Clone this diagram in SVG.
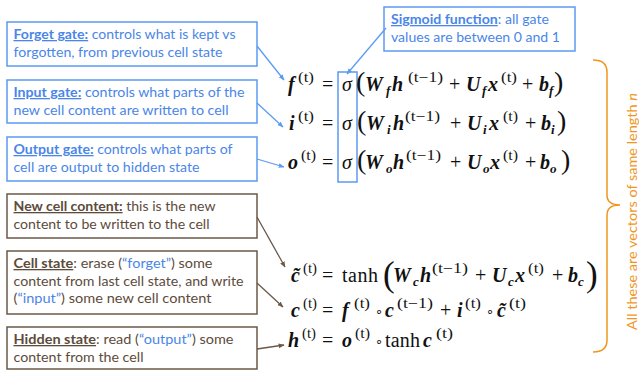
<svg xmlns="http://www.w3.org/2000/svg" width="639" height="370" viewBox="0 0 639 370">
<style>
.bx{fill:#fff;stroke-width:1.5}
.bb{stroke:#5b9bf2}
.br{stroke:#6b5847}
.t{font-family:Lato,"Open Sans",sans-serif;font-size:13px}
.tb{fill:#4a86e8}
.tr{fill:#5d4b3b}
.h{font-weight:bold;text-decoration:underline}
.q{fill:#4a86e8}
.m{font-family:"Liberation Serif","DejaVu Serif",serif;fill:#111}
.v{font-weight:bold;font-style:italic;font-size:20px}
.sb{font-weight:bold;font-style:italic;font-size:13px}
.sp{font-size:14px}
.op{font-size:20px}
.gk{font-style:italic;font-size:20px}
.bp{font-size:28px}
.bp2{font-size:35px}
.ring{font-family:"DejaVu Sans",sans-serif;font-size:13px;fill:#111}
.ca{fill:none;stroke-width:1.3}
.cb{stroke:#5b9bf2;marker-end:url(#ab)}
.cr{stroke:#6b5847;marker-end:url(#ar)}
</style>
<defs>
<marker id="ab" viewBox="0 0 10 10" refX="9" refY="5" markerWidth="6" markerHeight="6" orient="auto" markerUnits="userSpaceOnUse"><path d="M0,1 L10,5 L0,9 z" fill="#5b9bf2"/></marker>
<marker id="ar" viewBox="0 0 10 10" refX="9" refY="5" markerWidth="6" markerHeight="6" orient="auto" markerUnits="userSpaceOnUse"><path d="M0,1 L10,5 L0,9 z" fill="#6b5847"/></marker>
</defs>
<rect width="639" height="370" fill="#fff"/>

<g id="forget-gate">
<rect class="bx bb" x="7" y="22" width="250" height="44"/>
<text class="t tb" x="13.5" y="39" textLength="222" lengthAdjust="spacingAndGlyphs"><tspan class="h">Forget gate:</tspan> controls what is kept vs</text>
<text class="t tb" x="13.5" y="57" textLength="209" lengthAdjust="spacingAndGlyphs">forgotten, from previous cell state</text>
</g>
<g id="input-gate">
<rect class="bx bb" x="7" y="80" width="250" height="43"/>
<text class="t tb" x="13.5" y="97" textLength="231" lengthAdjust="spacingAndGlyphs"><tspan class="h">Input gate:</tspan> controls what parts of the</text>
<text class="t tb" x="13.5" y="115" textLength="215" lengthAdjust="spacingAndGlyphs">new cell content are written to cell</text>
</g>
<g id="output-gate">
<rect class="bx bb" x="7" y="137" width="250" height="44"/>
<text class="t tb" x="13.5" y="154" textLength="219" lengthAdjust="spacingAndGlyphs"><tspan class="h">Output gate:</tspan> controls what parts of</text>
<text class="t tb" x="13.5" y="172" textLength="186" lengthAdjust="spacingAndGlyphs">cell are output to hidden state</text>
</g>
<g id="new-cell-content">
<rect class="bx br" x="7" y="194" width="250" height="44"/>
<text class="t tr" x="13.5" y="211" textLength="202" lengthAdjust="spacingAndGlyphs"><tspan class="h">New cell content:</tspan> this is the new</text>
<text class="t tr" x="13.5" y="229" textLength="196" lengthAdjust="spacingAndGlyphs">content to be written to the cell</text>
</g>
<g id="cell-state">
<rect class="bx br" x="7" y="251" width="250" height="63"/>
<text class="t tr" x="13.5" y="268" textLength="199" lengthAdjust="spacingAndGlyphs"><tspan class="h">Cell state</tspan>: erase (<tspan class="q">“forget”</tspan>) some</text>
<text class="t tr" x="13.5" y="286" textLength="230" lengthAdjust="spacingAndGlyphs">content from last cell state, and write</text>
<text class="t tr" x="13.5" y="303" textLength="198" lengthAdjust="spacingAndGlyphs">(<tspan class="q">“input”</tspan>) some new cell content</text>
</g>
<g id="hidden-state">
<rect class="bx br" x="7" y="327" width="250" height="42"/>
<text class="t tr" x="13.5" y="344" textLength="220" lengthAdjust="spacingAndGlyphs"><tspan class="h">Hidden state</tspan>: read (<tspan class="q">“output”</tspan>) some</text>
<text class="t tr" x="13.5" y="362" textLength="130" lengthAdjust="spacingAndGlyphs">content from the cell</text>
</g>
<g id="sigmoid-function">
<rect class="bx bb" x="384" y="7" width="191" height="44"/>
<text class="t tb" x="391" y="24" textLength="158" lengthAdjust="spacingAndGlyphs"><tspan class="h">Sigmoid function</tspan>: all gate</text>
<text class="t tb" x="391" y="42" textLength="169" lengthAdjust="spacingAndGlyphs">values are between 0 and 1</text>
</g>
<g id="sigma-highlight">
<rect x="338" y="72" width="19" height="110" fill="none" stroke="#5b9bf2" stroke-width="1.5"/>
</g>

<g id="eq-f" class="m">
<text class="v" x="288" y="91">f</text><text class="sp" x="298" y="82" textLength="16" lengthAdjust="spacingAndGlyphs">(t)</text>
<text class="op" x="322" y="91">=</text><text class="gk" x="342" y="91">σ</text>
<text class="bp" x="356" y="91">(</text>
<text class="v" x="365" y="91">W</text><text class="sb" x="386" y="95">f</text>
<text class="v" x="392" y="91">h</text><text class="sp" x="408" y="82" textLength="35" lengthAdjust="spacingAndGlyphs">(t−1)</text>
<text class="op" x="449" y="91">+</text>
<text class="v" x="466" y="91">U</text><text class="sb" x="482" y="95">f</text>
<text class="v" x="488" y="91">x</text><text class="sp" x="501" y="82" textLength="16" lengthAdjust="spacingAndGlyphs">(t)</text>
<text class="op" x="522" y="91">+</text>
<text class="v" x="539" y="91">b</text><text class="sb" x="549" y="95">f</text>
<text class="bp" x="554" y="91">)</text>
</g>
<g id="eq-i" class="m">
<text class="v" x="289" y="130">i</text><text class="sp" x="298" y="121" textLength="16" lengthAdjust="spacingAndGlyphs">(t)</text>
<text class="op" x="322" y="130">=</text><text class="gk" x="342" y="130">σ</text>
<text class="bp" x="357" y="130">(</text>
<text class="v" x="366" y="130">W</text><text class="sb" x="387" y="134">i</text>
<text class="v" x="393" y="130">h</text><text class="sp" x="405" y="121" textLength="35" lengthAdjust="spacingAndGlyphs">(t−1)</text>
<text class="op" x="450" y="130">+</text>
<text class="v" x="467" y="130">U</text><text class="sb" x="483" y="134">i</text>
<text class="v" x="489" y="130">x</text><text class="sp" x="503" y="121" textLength="15" lengthAdjust="spacingAndGlyphs">(t)</text>
<text class="op" x="525" y="130">+</text>
<text class="v" x="541" y="130">b</text><text class="sb" x="551" y="134">i</text>
<text class="bp" x="557" y="130">)</text>
</g>
<g id="eq-o" class="m">
<text class="v" x="288" y="169">o</text><text class="sp" x="301" y="160" textLength="15" lengthAdjust="spacingAndGlyphs">(t)</text>
<text class="op" x="322" y="169">=</text><text class="gk" x="342" y="169">σ</text>
<text class="bp" x="357" y="169">(</text>
<text class="v" x="365" y="169">W</text><text class="sb" x="386" y="173">o</text>
<text class="v" x="393" y="169">h</text><text class="sp" x="406" y="160" textLength="35" lengthAdjust="spacingAndGlyphs">(t−1)</text>
<text class="op" x="450" y="169">+</text>
<text class="v" x="467" y="169">U</text><text class="sb" x="483" y="173">o</text>
<text class="v" x="490" y="169">x</text><text class="sp" x="503" y="160" textLength="15" lengthAdjust="spacingAndGlyphs">(t)</text>
<text class="op" x="525" y="169">+</text>
<text class="v" x="540" y="169">b</text><text class="sb" x="550" y="173">o</text>
<text class="bp" x="561" y="169">)</text>
</g>
<g id="eq-ctilde" class="m">
<text class="v" x="291" y="282">c̃</text><text class="sp" x="303" y="273" textLength="14" lengthAdjust="spacingAndGlyphs">(t)</text>
<text class="op" x="322" y="282">=</text>
<text class="op" x="342" y="282" textLength="36" lengthAdjust="spacing">tanh</text>
<text class="bp2" x="383" y="286">(</text>
<text class="v" x="393" y="282">W</text><text class="sb" x="413" y="286">c</text>
<text class="v" x="420" y="282">h</text><text class="sp" x="432" y="273" textLength="36" lengthAdjust="spacingAndGlyphs">(t−1)</text>
<text class="op" x="475" y="282">+</text>
<text class="v" x="492" y="282">U</text><text class="sb" x="508" y="286">c</text>
<text class="v" x="515" y="282">x</text><text class="sp" x="528" y="273" textLength="16" lengthAdjust="spacingAndGlyphs">(t)</text>
<text class="op" x="552" y="282">+</text>
<text class="v" x="568" y="282">b</text><text class="sb" x="578" y="286">c</text>
<text class="bp2" x="586" y="286">)</text>
</g>
<g id="eq-c" class="m">
<text class="v" x="291" y="317">c</text><text class="sp" x="303" y="308" textLength="14" lengthAdjust="spacingAndGlyphs">(t)</text>
<text class="op" x="322" y="317">=</text>
<text class="v" x="342" y="317">f</text><text class="sp" x="354" y="308" textLength="16" lengthAdjust="spacingAndGlyphs">(t)</text>
<text class="ring" x="375" y="316">∘</text>
<text class="v" x="385" y="317">c</text><text class="sp" x="397" y="308" textLength="36" lengthAdjust="spacingAndGlyphs">(t−1)</text>
<text class="op" x="440" y="317">+</text>
<text class="v" x="457" y="317">i</text><text class="sp" x="465" y="308" textLength="16" lengthAdjust="spacingAndGlyphs">(t)</text>
<text class="ring" x="486" y="316">∘</text>
<text class="v" x="497" y="317">c̃</text><text class="sp" x="509" y="308" textLength="17" lengthAdjust="spacingAndGlyphs">(t)</text>
</g>
<g id="eq-h" class="m">
<text class="v" x="288" y="347">h</text><text class="sp" x="302" y="338" textLength="14" lengthAdjust="spacingAndGlyphs">(t)</text>
<text class="op" x="322" y="347">=</text>
<text class="v" x="342" y="347">o</text><text class="sp" x="355" y="338" textLength="15" lengthAdjust="spacingAndGlyphs">(t)</text>
<text class="ring" x="375" y="346">∘</text>
<text class="op" x="385" y="347" textLength="35" lengthAdjust="spacing">tanh</text>
<text class="v" x="423" y="347">c</text><text class="sp" x="436" y="338" textLength="17" lengthAdjust="spacingAndGlyphs">(t)</text>
</g>

<g id="brace-note">
<path d="M593,60 Q607,60 607,72 L607,195 Q607,205 620,205 Q607,205 607,215 L607,340 Q607,352 593,352" fill="none" stroke="#f0961e" stroke-width="1.5"/>
<text x="637" y="211.5" transform="rotate(-90 637 211.5)" text-anchor="middle" font-family="Lato,'Open Sans',sans-serif" font-size="13" fill="#f0961e" textLength="237" lengthAdjust="spacingAndGlyphs">All these are vectors of same length <tspan font-style="italic">n</tspan></text>
</g>

<g id="connectors">
<line class="ca cb" x1="257" y1="46" x2="284" y2="80"/>
<line class="ca cb" x1="257" y1="103" x2="283" y2="127"/>
<line class="ca cb" x1="257" y1="159" x2="284" y2="167"/>
<line class="ca cb" x1="386" y1="28" x2="347" y2="74"/>
<line class="ca cr" x1="257" y1="217" x2="285" y2="267"/>
<line class="ca cr" x1="257" y1="283" x2="283" y2="307"/>
<line class="ca cr" x1="257" y1="349" x2="284" y2="345"/>
</g>
</svg>
